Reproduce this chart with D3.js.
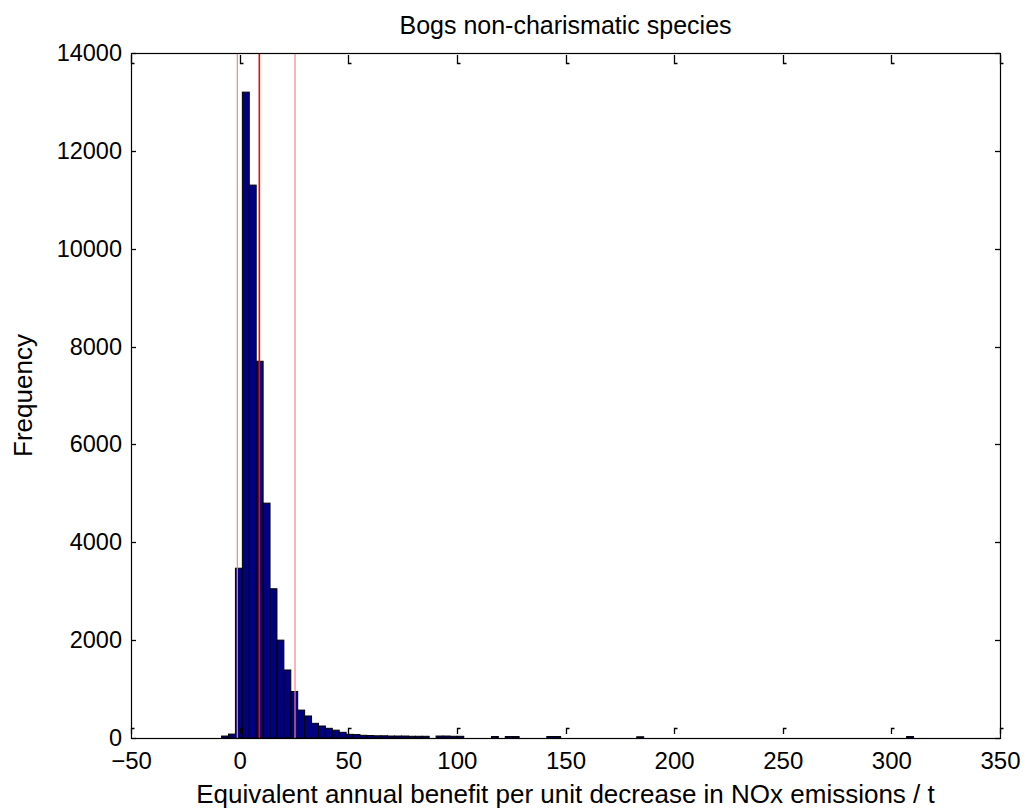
<!DOCTYPE html>
<html><head><meta charset="utf-8">
<script src="https://cdn.jsdelivr.net/npm/d3@7"></script>
<style>body{margin:0;background:#fff;} svg{display:block;}</style>
</head><body>
<svg id="c" width="1027" height="812"></svg>
<script>
const titleText = "Bogs non-charismatic species";
const xLabel = "Equivalent annual benefit per unit decrease in NOx emissions / t";
const yLabel = "Frequency";
const xTicks = [-50,0,50,100,150,200,250,300,350];
const yTicks = [0,2000,4000,6000,8000,10000,12000,14000];
const binStart = -8.3, binWidth = 3.185;
const counts = [40,80,3470,13200,11300,7700,4800,3050,2000,1390,950,570,450,300,245,198,160,116,75,70,
  55,50,45,45,40,40,40,35,35,35,0,40,40,35,35,0,0,0,0,30,
  0,30,30,0,0,0,0,30,30,0,0,0,0,0,0,0,0,0,0,0,
  25,0,0,0,0,0,0,0,0,0,0,0,0,0,0,0,0,0,0,0,
  0,0,0,0,0,0,0,0,0,0,0,0,0,0,0,0,0,0,0,30];
const refLines = [{v:-1.06, main:false},{v:9.07, main:true},{v:25.5, main:false}];

const svg = d3.select("#c");
const L=131,R=1000,T=53,B=738;
const x = d3.scaleLinear().domain([-50,350]).range([L,R]);
const y = d3.scaleLinear().domain([0,14000]).range([B,T]);
const font = "Arial, 'Liberation Sans', sans-serif";

const bins = counts.map((c,i)=>({x0:binStart+i*binWidth, x1:binStart+(i+1)*binWidth, c}));
svg.append("g").selectAll("rect").data(bins.filter(d=>d.c>0)).join("rect")
  .attr("x",d=>x(d.x0)).attr("width",d=>x(d.x1)-x(d.x0))
  .attr("y",d=>y(d.c)).attr("height",d=>B-y(d.c))
  .attr("fill","#000080").attr("stroke","#000").attr("stroke-width",1);

svg.append("g").selectAll("line").data(refLines).join("line")
  .attr("x1",d=>x(d.v)).attr("x2",d=>x(d.v)).attr("y1",T).attr("y2",B)
  .attr("stroke",d=>d.main?"#ff0000":"#ff8080").attr("stroke-width",d=>d.main?1.6:1.2);

svg.append("rect").attr("x",L+0.5).attr("y",T+0.5).attr("width",R-L).attr("height",B-T)
  .attr("fill","none").attr("stroke","#000").attr("stroke-width",1.2);

const gx = svg.append("g").attr("transform",`translate(0,${B})`)
  .call(d3.axisBottom(x).tickValues(xTicks).tickFormat(d3.format("d")).tickSize(0).tickPadding(14));
gx.select(".domain").remove();
gx.selectAll("text").attr("font-family",font).attr("font-size",24).attr("fill","#000");
const gy = svg.append("g").attr("transform",`translate(${L},0)`)
  .call(d3.axisLeft(y).tickValues(yTicks).tickFormat(d3.format("d")).tickSize(0).tickPadding(9));
gy.select(".domain").remove();
gy.selectAll("text").attr("font-family",font).attr("font-size",23.5).attr("fill","#000");

// tick marks (drawn inside, slightly offset as in the original export)
const tg = svg.append("g").attr("stroke","#000").attr("stroke-width",1.3).attr("fill","none");
xTicks.forEach(v=>{
  const px = Math.round(x(v))+0.5;
  tg.append("path").attr("d",`M${px+3},${B-9.5}H${px}V${B-4}`);
  tg.append("path").attr("d",`M${px},${T+2}V${T+10.5}H${px+3}`);
});
yTicks.forEach(v=>{
  const py = Math.round(y(v))+0.5;
  tg.append("line").attr("x1",L+1).attr("x2",L+5).attr("y1",py).attr("y2",py);
  tg.append("line").attr("x1",R).attr("x2",R-5).attr("y1",py).attr("y2",py);
});

svg.append("text").attr("x",(L+R)/2).attr("y",34).attr("text-anchor","middle")
  .attr("font-family",font).attr("font-size",25).text(titleText);
svg.append("text").attr("x",(L+R)/2).attr("y",803).attr("text-anchor","middle")
  .attr("font-family",font).attr("font-size",26).text(xLabel);
svg.append("text").attr("transform",`translate(32,${(T+B)/2}) rotate(-90)`).attr("text-anchor","middle")
  .attr("font-family",font).attr("font-size",26).text(yLabel);
</script>
</body></html>
